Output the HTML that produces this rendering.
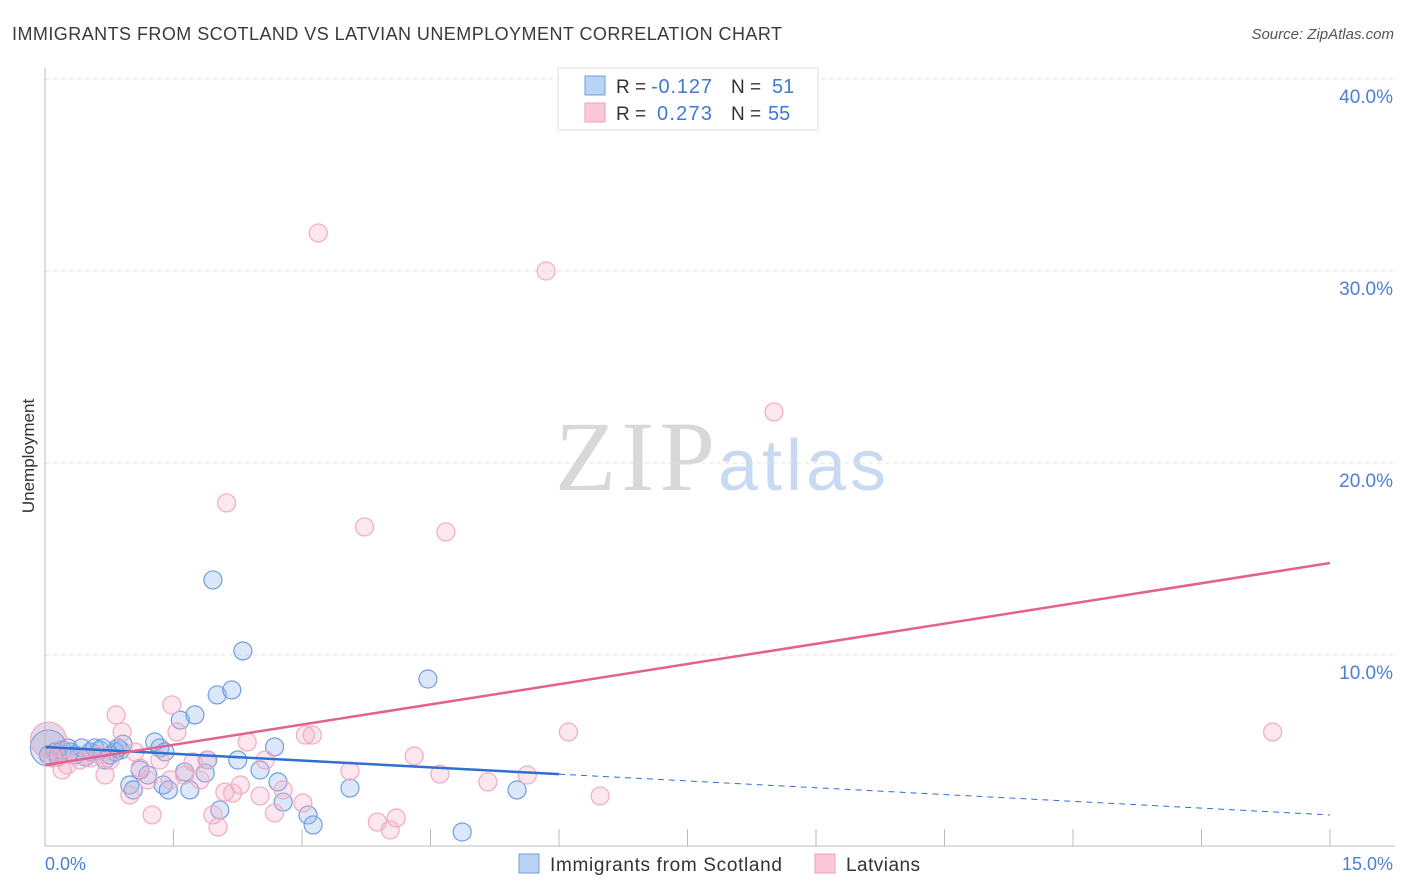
<!DOCTYPE html>
<html><head><meta charset="utf-8"><style>
body{margin:0;background:#fff;font-family:"Liberation Sans",sans-serif}
svg{display:block}
</style></head><body>
<svg id="c" width="1406" height="892">
<text x="12" y="40" font-size="18" fill="#3a3a3a" textLength="770">IMMIGRANTS FROM SCOTLAND VS LATVIAN UNEMPLOYMENT CORRELATION CHART</text>
<text x="1394" y="39" font-size="15" fill="#555" text-anchor="end" font-style="italic">Source: ZipAtlas.com</text>
<text x="34" y="456" font-size="17" fill="#333" text-anchor="middle" transform="rotate(-90 34 456)">Unemployment</text>
<text x="555" y="490" font-size="100" fill="#d8d8d8" font-family="Liberation Serif,serif" textLength="160">ZIP</text>
<text x="718" y="490" font-size="72" fill="#c8daf2" textLength="168">atlas</text>
<g id="grid"></g><g id="pts"></g><g id="lines"></g>
<line x1="45" y1="68" x2="45" y2="846" stroke="#bbb"/>
<line x1="45" y1="846" x2="1395" y2="846" stroke="#bbb"/>
<text x="45" y="870" font-size="18" fill="#4a7fd4">0.0%</text>
<text x="1393" y="870" font-size="18" fill="#4a7fd4" text-anchor="end">15.0%</text>
<g>
<rect x="558" y="68" width="260" height="62" fill="#fff" stroke="#ddd"/>
<rect x="585" y="76" width="20" height="19" fill="#b9d3f5" stroke="#6f9ee0"/>
<rect x="585" y="103" width="20" height="19" fill="#fac8d8" stroke="#f0a0b8"/>
<text x="616" y="93" font-size="19" fill="#333">R =</text>
<text x="651" y="93" font-size="20" fill="#3d7ad6" textLength="61">-0.127</text>
<text x="731" y="93" font-size="19" fill="#333">N =</text>
<text x="772" y="93" font-size="20" fill="#3d7ad6">51</text>
<text x="616" y="120" font-size="19" fill="#333">R =</text>
<text x="657" y="120" font-size="20" fill="#3d7ad6" textLength="55">0.273</text>
<text x="731" y="120" font-size="19" fill="#333">N =</text>
<text x="768" y="120" font-size="20" fill="#3d7ad6">55</text>
</g>
<g>
<rect x="519" y="854" width="20" height="19" fill="#b9d3f5" stroke="#6f9ee0"/>
<text x="550" y="871" font-size="19" fill="#333" textLength="232">Immigrants from Scotland</text>
<rect x="815" y="854" width="20" height="19" fill="#fac8d8" stroke="#f0a0b8"/>
<text x="846" y="871" font-size="19" fill="#333" textLength="74">Latvians</text>
</g>
</svg>
<script>
const yTicks=[10,20,30,40];
const yTickLabels=["10.0%","20.0%","30.0%","40.0%"];
const blueX=[0.04,0.12,0.20,0.27,0.35,0.43,0.53,0.64,0.70,0.76,0.82,0.88,0.85,0.91,0.99,1.03,1.11,1.20,1.28,1.34,1.38,1.44,1.40,1.58,1.63,1.69,1.75,1.87,1.90,1.96,2.01,2.04,2.18,2.25,2.31,2.51,2.68,2.72,2.78,3.07,3.13,3.56,4.47,4.87,5.51,0.04,0.15,0.58,0.67,0.47,0.29];
const blueY=[5.16,4.95,5.05,5.16,4.79,5.16,4.95,5.05,4.53,4.79,4.95,5.05,5.16,5.36,3.23,2.97,4.01,3.75,5.47,5.16,3.23,2.97,4.95,6.61,3.91,2.97,6.88,3.85,4.53,13.91,7.92,1.93,8.18,4.53,10.21,4.01,5.21,3.39,2.34,1.67,1.15,3.07,8.75,0.78,2.97,4.79,4.69,5.16,5.16,4.69,4.95];
const pinkX=[0.04,0.08,0.18,0.26,0.41,0.53,0.64,0.70,0.83,0.90,0.99,1.05,1.20,1.25,1.34,1.46,1.48,1.54,1.63,1.73,1.81,1.89,1.96,2.02,2.12,2.19,2.28,2.36,2.51,2.68,2.78,3.01,3.04,3.12,3.19,3.56,3.73,3.88,4.03,4.10,4.31,4.61,4.68,5.17,5.63,5.85,6.11,6.48,8.51,14.33,0.20,0.76,1.11,2.10,2.57];
const pinkY=[5.57,4.64,4.79,4.27,4.53,4.64,4.79,3.75,6.88,5.99,2.71,4.95,3.49,1.67,4.53,3.49,7.40,5.99,3.75,4.43,3.49,4.53,1.67,1.04,17.92,2.81,3.23,5.47,2.66,1.77,2.97,2.29,5.83,5.83,31.98,3.96,16.67,1.30,0.89,1.51,4.74,3.80,16.41,3.39,3.75,30.00,5.99,2.66,22.66,5.99,4.01,4.53,4.11,2.86,4.53];
const blueTrend=[5.21,1.67]; const blueSolidEnd=6.0;
const pinkTrend=[4.27,14.79];
const NS="http://www.w3.org/2000/svg";
const sx=v=>45+v/15*1285, sy=v=>847-v*19.2;
function mk(t,a,p){const e=document.createElementNS(NS,t);for(const k in a)e.setAttribute(k,a[k]);p.appendChild(e);return e;}
const grid=document.getElementById('grid'),pts=document.getElementById('pts'),lines=document.getElementById('lines');
yTicks.forEach((v,i)=>{
 const l=mk('line',{x1:45,x2:1395,y1:sy(v),y2:sy(v),stroke:'#e0e0e0','stroke-dasharray':'4,4'},grid);
 
 
 const t=mk('text',{x:1393,y:sy(v)+24,'font-size':19,fill:'#4a7fd4','text-anchor':'end'},grid);
 t.textContent=yTickLabels[i];
 
 
});
for(let i=1;i<=10;i++){
 const l=mk('line',{x1:sx(i*1.5),x2:sx(i*1.5),y1:829,y2:846,stroke:'#bbb'},grid);
 
 
}
blueX.forEach((x,i)=>{
 const c=mk('circle',{cx:sx(x),cy:sy(blueY[i]),r:i==0?18:9,fill:'rgba(140,180,235,0.3)',stroke:'#6f9ee0','stroke-width':1.2},pts);
 
 
});
pinkX.forEach((x,i)=>{
 const c=mk('circle',{cx:sx(x),cy:sy(pinkY[i]),r:i==0?18:9,fill:i==0?'rgba(190,160,200,0.4)':'rgba(245,175,200,0.3)',stroke:'#f2aac0','stroke-width':1.2},pts);
 
 
});
const by=x=>blueTrend[0]+(blueTrend[1]-blueTrend[0])*x/15;
const b1=mk('line',{x1:sx(0),y1:sy(by(0)),x2:sx(blueSolidEnd),y2:sy(by(blueSolidEnd)),stroke:'#2f6fd0','stroke-width':2.5},lines);


const b2=mk('line',{x1:sx(blueSolidEnd),y1:sy(by(blueSolidEnd)),x2:sx(15),y2:sy(by(15)),stroke:'#2f6fd0','stroke-width':1,'stroke-dasharray':'6,5'},lines);


const p1=mk('line',{x1:sx(0),y1:sy(pinkTrend[0]),x2:sx(15),y2:sy(pinkTrend[1]),stroke:'#e4608f','stroke-width':2.5},lines);


</script>
</body></html>
